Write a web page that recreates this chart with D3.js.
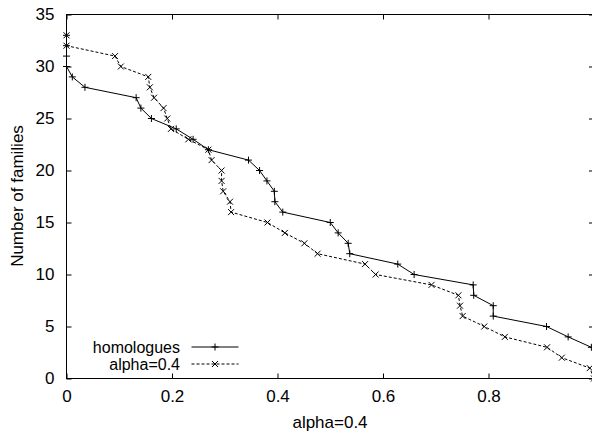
<!DOCTYPE html>
<html>
<head>
<meta charset="utf-8">
<script src="https://cdn.jsdelivr.net/npm/d3@7"></script>
<style>
  body { margin: 0; background: #fff; }
  svg text { font-family: "Liberation Sans", Arial, Helvetica, sans-serif; font-size: 17px; fill: #000; }
</style>
</head>
<body>
<script>
// homologues (solid, + markers)
var homX = [0, 0, 0, 0, 0.011, 0.035, 0.132, 0.141, 0.161, 0.208, 0.24, 0.269, 0.345, 0.366, 0.38, 0.394, 0.395, 0.41,
            0.50, 0.515, 0.534, 0.537, 0.628, 0.659, 0.771, 0.772, 0.809, 0.809, 0.91, 0.951, 0.995];
var homY = [33, 32, 31, 30, 29, 28, 27, 26, 25, 24, 23, 22, 21, 20, 19, 18, 17, 16,
            15, 14, 13, 12, 11, 10, 9, 8, 7, 6, 5, 4, 3];

// alpha=0.4 (dashed, x markers)
var alpX = [0, 0, 0.092, 0.103, 0.155, 0.158, 0.166, 0.184, 0.191, 0.198, 0.231, 0.269, 0.275, 0.294, 0.294, 0.297,
            0.31, 0.312, 0.381, 0.414, 0.451, 0.476, 0.566, 0.586, 0.692, 0.743, 0.746, 0.751, 0.792, 0.831, 0.911,
            0.939, 0.992, 1.0];
var alpY = [33, 32, 31, 30, 29, 28, 27, 26, 25, 24, 23, 22, 21, 20, 19, 18,
            17, 16, 15, 14, 13, 12, 11, 10, 9, 8, 7, 6, 5, 4, 3,
            2, 1, 0];

var xTicks = [0, 0.2, 0.4, 0.6, 0.8];
var yTicks = [0, 5, 10, 15, 20, 25, 30, 35];
var seriesNames = ["homologues", "alpha=0.4"];

var W = 592, H = 433;
var mLeft = 66.5, mRight = 594, mTop = 14.5, mBottom = 378.5;

var x = d3.scaleLinear().domain([0, 1]).range([mLeft, mRight]);
var y = d3.scaleLinear().domain([0, 35]).range([mBottom, mTop]);

var svg = d3.select("body").append("svg")
    .attr("width", W)
    .attr("height", H);

// frame
svg.append("rect")
    .attr("x", mLeft).attr("y", mTop)
    .attr("width", mRight - mLeft).attr("height", mBottom - mTop)
    .attr("fill", "none").attr("stroke", "#000").attr("stroke-width", 1);

// axes (gnuplot style: inward ticks mirrored)
var fmt = function(d) { return d === 0 ? "0" : d3.format(".1f")(d); };

svg.append("g")
    .attr("transform", "translate(0," + mBottom + ")")
    .call(d3.axisBottom(x).tickValues(xTicks).tickSize(-5).tickPadding(11.5).tickFormat(fmt));
svg.append("g")
    .attr("transform", "translate(0," + mTop + ")")
    .call(d3.axisTop(x).tickValues(xTicks).tickSize(-5).tickFormat(""));
svg.append("g")
    .attr("transform", "translate(" + mLeft + ",0)")
    .call(d3.axisLeft(y).tickValues(yTicks).tickSize(-5).tickPadding(12));
svg.append("g")
    .attr("transform", "translate(" + mRight + ",0)")
    .call(d3.axisRight(y).tickValues(yTicks).tickSize(-5).tickFormat(""));

svg.selectAll(".domain").remove();
svg.selectAll(".tick line").attr("stroke", "#000");
svg.selectAll(".tick text").attr("font-size", 16.5).attr("font-family", null);

// axis labels
svg.append("text")
    .attr("x", 330).attr("y", 428)
    .attr("text-anchor", "middle")
    .text("alpha=0.4");
svg.append("text")
    .attr("transform", "translate(23,196) rotate(-90)")
    .attr("text-anchor", "middle")
    .text("Number of families");

var homData = homX.map(function(d, i) { return [d, homY[i]]; });
var alpData = alpX.map(function(d, i) { return [d, alpY[i]]; });

var line = d3.line()
    .x(function(d) { return x(d[0]); })
    .y(function(d) { return y(d[1]); });

var plot = svg.append("g");

plot.append("path")
    .datum(homData)
    .attr("d", line)
    .attr("fill", "none").attr("stroke", "#000").attr("stroke-width", 1);

plot.append("path")
    .datum(alpData)
    .attr("d", line)
    .attr("fill", "none").attr("stroke", "#000").attr("stroke-width", 1)
    .attr("stroke-dasharray", "3,2");

function plus(cx, cy, s) {
  return "M" + (cx - s) + "," + cy + "H" + (cx + s) + "M" + cx + "," + (cy - s) + "V" + (cy + s);
}
function cross(cx, cy, s) {
  return "M" + (cx - s) + "," + (cy - s) + "L" + (cx + s) + "," + (cy + s) +
         "M" + (cx - s) + "," + (cy + s) + "L" + (cx + s) + "," + (cy - s);
}

plot.selectAll(".hp")
    .data(homData)
    .enter().append("path")
    .attr("d", function(d) { return plus(x(d[0]), y(d[1]), 3.5); })
    .attr("stroke", "#000").attr("stroke-width", 1);

plot.selectAll(".ap")
    .data(alpData)
    .enter().append("path")
    .attr("d", function(d) { return cross(x(d[0]), y(d[1]), 3); })
    .attr("stroke", "#000").attr("stroke-width", 1);

// legend
var legY = [347, 364];
seriesNames.forEach(function(name, i) {
  svg.append("text")
      .attr("x", 180).attr("y", legY[i] + 5.5)
      .attr("text-anchor", "end")
      .attr("font-size", 16)
      .style("font-size", "16px")
      .text(name);
  var ln = svg.append("line")
      .attr("x1", 191.5).attr("x2", 238.5)
      .attr("y1", legY[i]).attr("y2", legY[i])
      .attr("stroke", "#000").attr("stroke-width", 1);
  if (i === 1) ln.attr("stroke-dasharray", "3,2");
  svg.append("path")
      .attr("d", i === 0 ? plus(215, legY[i], 3.5) : cross(215, legY[i], 3))
      .attr("stroke", "#000").attr("stroke-width", 1);
});
</script>
</body>
</html>
